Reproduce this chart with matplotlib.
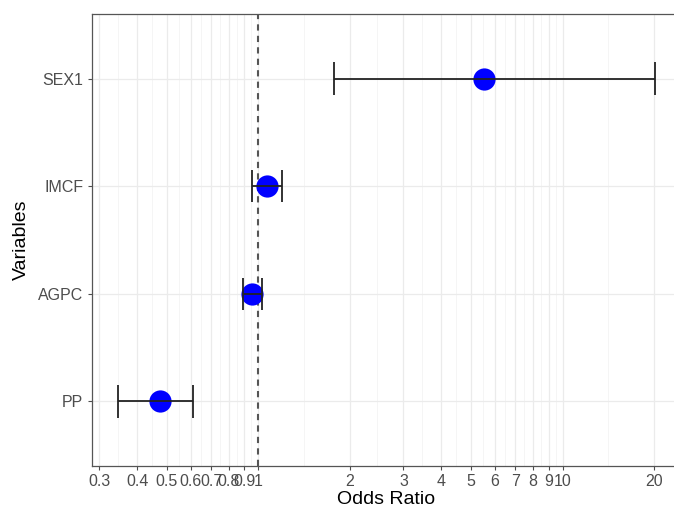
import matplotlib
matplotlib.use('Agg')

import matplotlib.pyplot as plt
import numpy as np

# ─── 数据 ───
variables = ['PP', 'AGPC', 'IMCF', 'SEX1']
odds_ratio = [0.476, 0.955, 1.07, 5.5]
ci_low = [0.346, 0.893, 0.955, 1.77]
ci_high = [0.61, 1.03, 1.20, 20.1]

x_breaks = [0.3, 0.4, 0.5, 0.6, 0.7, 0.8, 0.9, 1, 2, 3, 4, 5, 6, 7, 8, 9, 10, 20]
x_labels = ['0.3', '0.4', '0.5', '0.6', '0.7', '0.8', '0.9', '1',
            '2', '3', '4', '5', '6', '7', '8', '9', '10', '20']

plt.rcParams['font.family'] = ['Liberation Sans', 'DejaVu Sans']

fig = plt.figure(figsize=(6.74, 5.11), dpi=100)
ax = fig.add_axes([0.136, 0.088, 0.875, 0.8845])

ax.set_xscale('log')
ypos = np.arange(1, len(variables) + 1)

# 网格: 主线 + 对数空间中点的次线
for b in x_breaks:
    ax.axvline(b, color='#ebebeb', lw=0.9, zorder=0)
lb = np.log10(x_breaks)
mids = list((lb[:-1] + lb[1:]) / 2)
mids = [lb[0] - (lb[1] - lb[0]) / 2] + mids + [lb[-1] + (lb[-1] - lb[-2]) / 2]
for m in mids:
    ax.axvline(10 ** m, color='#f2f2f2', lw=0.5, zorder=0)
for y in ypos:
    ax.axhline(y, color='#ebebeb', lw=0.9, zorder=0)

# 参考线
ax.axvline(1, color='#555555', lw=1.5, ls=(0, (3, 2.5)), zorder=2)

# 点
ax.plot(odds_ratio, ypos, 'o', color='#0000ff', markersize=16, zorder=3,
        markeredgewidth=0)

# 误差线 (画在点上面)
cap = 0.15
ax.hlines(ypos, ci_low, ci_high, color='#222222', lw=1.3, zorder=4)
ax.vlines(ci_low, ypos - cap, ypos + cap, color='#222222', lw=1.3, zorder=4)
ax.vlines(ci_high, ypos - cap, ypos + cap, color='#222222', lw=1.3, zorder=4)

ax.set_xlim(0.283, 24.6)
ax.set_ylim(0.4, 4.6)

ax.set_xticks(x_breaks)
ax.set_xticklabels(x_labels)
ax.xaxis.set_minor_locator(matplotlib.ticker.NullLocator())
ax.set_yticks(ypos)
ax.set_yticklabels(variables)

ax.tick_params(axis='both', length=3, width=0.8, color='#4d4d4d',
               labelcolor='#4d4d4d', labelsize=11.5, pad=3)

for s in ax.spines.values():
    s.set_color('#555555')
    s.set_linewidth(0.9)

ax.set_xlabel('Odds Ratio', fontsize=14, labelpad=1)
ax.set_ylabel('Variables', fontsize=14, labelpad=6)

fig.savefig('out.png', dpi=100, facecolor='white')
